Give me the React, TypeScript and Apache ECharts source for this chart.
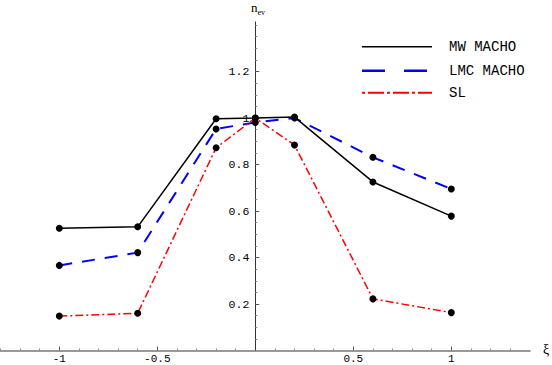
import React, { useEffect, useRef } from "react";
import * as echarts from "echarts";

const xValues = [-1, -0.6, -0.2, 0, 0.2, 0.6, 1];
const mwMacho = [0.526, 0.532, 0.997, 1.0, 1.004, 0.725, 0.578];
const lmcMacho = [0.366, 0.421, 0.953, 0.981, 1.0, 0.831, 0.695];
const sl = [0.148, 0.16, 0.872, 1.0, 0.884, 0.222, 0.163];

const seriesNames = ["MW MACHO", "LMC MACHO", "SL"];
const xMajorTicks = [-1, -0.5, 0.5, 1];
const xMinorTicks = [-1.3, -1.2, -1.1, -0.9, -0.8, -0.7, -0.6, -0.4, -0.3, -0.2, -0.1, 0.1, 0.2, 0.3, 0.4, 0.6, 0.7, 0.8, 0.9, 1.1, 1.2, 1.3];
const yMajorTicks = [0.2, 0.4, 0.6, 0.8, 1, 1.2];
const yMinorTicks = [0.05, 0.1, 0.15, 0.25, 0.3, 0.35, 0.45, 0.5, 0.55, 0.65, 0.7, 0.75, 0.85, 0.9, 0.95, 1.05, 1.1, 1.15, 1.25, 1.3, 1.35, 1.4];

const X_MIN = -1.3026;
const X_MAX = 1.4015;
const Y_MIN = 0;
const Y_MAX = 1.413;

const MONO = "'Liberation Mono', 'DejaVu Sans Mono', monospace";

export default function App() {
  const ref = useRef<HTMLDivElement>(null);
  useEffect(() => {
    if (!ref.current) return;
    const chart = echarts.init(ref.current, undefined, { renderer: "svg" });
    const pair = (ys: number[]) => xValues.map((x, i) => [x, ys[i]]);
    const axisColor = "#555";
    const gridW = 530;
    const yOffset = -(gridW * (0 - X_MIN)) / (X_MAX - X_MIN);
    const legendY = [46.7, 70.7, 92.7];
    const legendStyles = [
      { stroke: "#000", lineWidth: 1.5, lineDash: null as any },
      { stroke: "#0000ff", lineWidth: 2.5, lineDash: [23, 19] },
      { stroke: "#ff0000", lineWidth: 2, lineDash: [3, 3, 16, 3] },
    ];
    const graphic: any[] = [];
    seriesNames.forEach((n, i) => {
      graphic.push({
        type: "line",
        shape: { x1: 362, y1: legendY[i], x2: 432, y2: legendY[i] },
        style: { ...legendStyles[i], lineDash: legendStyles[i].lineDash || undefined },
      });
      graphic.push({
        type: "text",
        x: 449,
        y: legendY[i],
        style: { text: n, font: `14px ${MONO}`, fill: "#000", verticalAlign: "middle" },
      });
    });
    graphic.push({
      type: "text",
      x: 251,
      y: 1,
      style: {
        text: "{a|n}{b|ev}",
        rich: {
          a: { fontFamily: "'Liberation Serif', serif", fontSize: 13, fill: "#000", verticalAlign: "top" },
          b: { fontFamily: "'Liberation Serif', serif", fontSize: 8, fill: "#000", padding: [7, 0, 0, 0] },
        },
      },
    });
    graphic.push({
      type: "text",
      x: 543,
      y: 349,
      style: { text: "ξ", font: "14px 'Liberation Serif', serif", fill: "#000", verticalAlign: "middle" },
    });

    const option: any = {
      animation: false,
      backgroundColor: "#fff",
      grid: { left: 0, top: 22, width: gridW, height: 328.5, containLabel: false, outerBoundsMode: "none" },
      xAxis: [
        {
          type: "value",
          min: X_MIN,
          max: X_MAX,
          position: "bottom",
          splitLine: { show: false },
          axisLine: { show: true, onZero: false, lineStyle: { color: "#777", width: 1.5 } },
          axisTick: { show: true, inside: true, length: 4, customValues: xMajorTicks, lineStyle: { color: axisColor } },
          axisLabel: {
            customValues: xMajorTicks,
            formatter: (v: number) => String(v),
            fontFamily: MONO,
            fontSize: 11,
            lineHeight: 12,
            color: "#000",
            margin: 2,
          },
        },
        {
          type: "value",
          min: X_MIN,
          max: X_MAX,
          position: "bottom",
          splitLine: { show: false },
          axisLine: { show: false, onZero: false },
          axisTick: { show: true, inside: true, length: 2, customValues: xMinorTicks, lineStyle: { color: "#888" } },
          axisLabel: { show: false },
        },
      ],
      yAxis: [
        {
          type: "value",
          min: Y_MIN,
          max: Y_MAX,
          position: "left",
          offset: yOffset,
          splitLine: { show: false },
          axisLine: { show: true, onZero: false, lineStyle: { color: "#333", width: 1 } },
          axisTick: { show: true, inside: true, length: 4, customValues: yMajorTicks, lineStyle: { color: axisColor } },
          axisLabel: {
            customValues: yMajorTicks,
            formatter: (v: number) => String(v),
            fontFamily: MONO,
            fontSize: 11.5,
            color: "#000",
            margin: 6,
          },
        },
        {
          type: "value",
          min: Y_MIN,
          max: Y_MAX,
          position: "left",
          offset: yOffset,
          splitLine: { show: false },
          axisLine: { show: false, onZero: false },
          axisTick: { show: true, inside: true, length: 2, customValues: yMinorTicks, lineStyle: { color: "#888" } },
          axisLabel: { show: false },
        },
      ],
      series: [
        {
          name: seriesNames[0],
          type: "line",
          data: pair(mwMacho),
          symbol: "circle",
          symbolSize: 7,
          itemStyle: { color: "#000" },
          lineStyle: { color: "#000", width: 1.5 },
          z: 3,
        },
        {
          name: seriesNames[1],
          type: "line",
          data: pair(lmcMacho),
          symbol: "circle",
          symbolSize: 7,
          itemStyle: { color: "#000" },
          lineStyle: { color: "#0000ff", width: 2, type: [13, 10] },
          z: 2,
        },
        {
          name: seriesNames[2],
          type: "line",
          data: pair(sl),
          symbol: "circle",
          symbolSize: 7,
          itemStyle: { color: "#000" },
          lineStyle: { color: "#ff0000", width: 1.5, type: [8, 3, 2, 3] },
          z: 2,
        },
      ],
      graphic,
    };
    chart.setOption(option);
    return () => chart.dispose();
  }, []);
  return <div ref={ref} style={{ width: 552, height: 365, position: "absolute", left: 0, top: 0 }} />;
}
